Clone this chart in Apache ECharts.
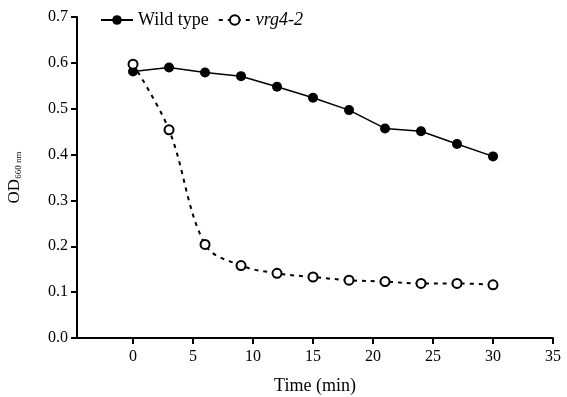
<!DOCTYPE html>
<html><head><meta charset="utf-8">
<script src="https://cdn.jsdelivr.net/npm/echarts@6/dist/echarts.min.js"></script>
<style>html,body{margin:0;padding:0;background:#fff}#c{width:567px;height:397px}</style>
</head><body><div id="c"></div>
<script>
var times = [0, 3, 6, 9, 12, 15, 18, 21, 24, 27, 30];
var wildType = [0.581, 0.590, 0.579, 0.571, 0.548, 0.524, 0.497, 0.457, 0.451, 0.423, 0.396];
var vrg4 = [0.597, 0.454, 0.204, 0.158, 0.141, 0.133, 0.126, 0.123, 0.119, 0.119, 0.116];
var xTicks = [0, 5, 10, 15, 20, 25, 30, 35];

var font = 'Liberation Serif';
var chart = echarts.init(document.getElementById('c'));
function pairs(v){ return times.map(function(t,i){return [t, v[i]];}); }
chart.setOption({
  backgroundColor: '#fff',
  animation: false,
  grid: {left: 77, right: 14, top: 17, bottom: 59, containLabel: false, outerBoundsMode: 'none'},
  legend: {
    left: 95, top: 6, itemWidth: 32, itemHeight: 12, itemGap: 9,
    textStyle: {fontFamily: font, fontSize: 18, color: '#000'},
    data: [
      {name: 'Wild type'},
      {name: 'vrg4-2', textStyle: {fontStyle: 'italic'}}
    ]
  },
  xAxis: {
    type: 'value', min: -4.67, max: 35,
    name: 'Time (min)', nameLocation: 'middle', nameGap: 39,
    nameTextStyle: {fontFamily: font, fontSize: 18, color: '#000'},
    axisLine: {onZero: false, lineStyle: {color: '#000', width: 2}},
    axisTick: {show: true, length: 6, lineStyle: {color: '#000', width: 2}, customValues: xTicks},
    axisLabel: {fontFamily: font, fontSize: 16, color: '#000', margin: 11, customValues: xTicks},
    splitLine: {show: false}
  },
  yAxis: {
    type: 'value', min: 0, max: 0.7, interval: 0.1,
    name: '{a|OD}{b|660 nm}', nameLocation: 'middle', nameGap: 54,
    nameTextStyle: {fontFamily: font, fontSize: 17, color: '#000',
      rich: {a: {fontFamily: font, fontSize: 17, color: '#000'},
             b: {fontFamily: font, fontSize: 9, color: '#000', verticalAlign: 'bottom', padding: [7,0,0,0]}}},
    axisLine: {show: true, onZero: false, lineStyle: {color: '#000', width: 2}},
    axisTick: {show: true, length: 6, lineStyle: {color: '#000', width: 2}},
    axisLabel: {fontFamily: font, fontSize: 16, color: '#000', margin: 9,
      formatter: function(v){ return v.toFixed(1); }},
    splitLine: {show: false}
  },
  series: [
    {
      name: 'Wild type', type: 'line', data: pairs(wildType),
      symbol: 'circle', symbolSize: 10,
      lineStyle: {color: '#000', width: 1.5},
      itemStyle: {color: '#000', borderColor: '#000', borderWidth: 0},
      z: 3
    },
    {
      name: 'vrg4-2', type: 'line', data: pairs(vrg4), smooth: 0.35,
      symbol: 'circle', symbolSize: 9,
      lineStyle: {color: '#000', width: 2, type: [4, 5]},
      itemStyle: {color: '#fff', borderColor: '#000', borderWidth: 2},
      z: 4
    }
  ]
});
</script></body></html>
